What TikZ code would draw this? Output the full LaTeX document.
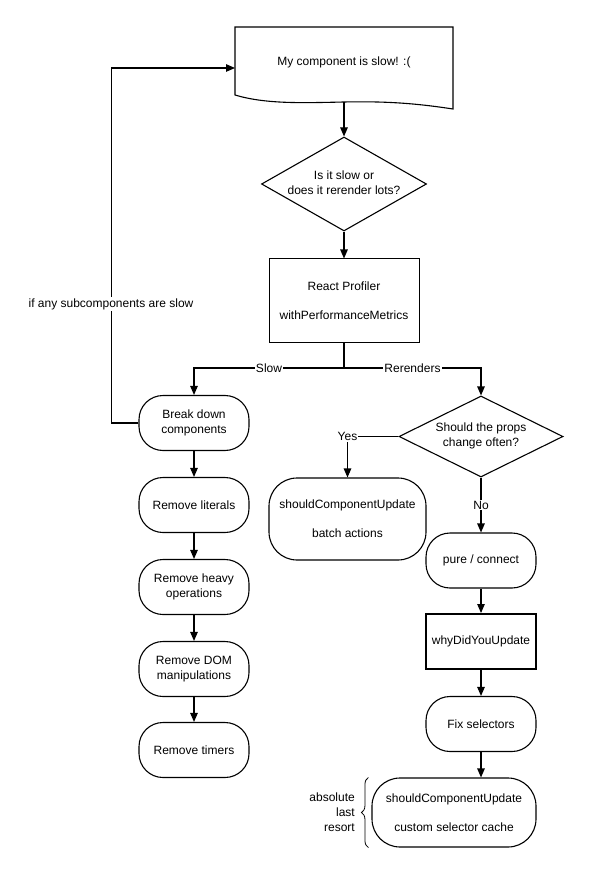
\documentclass[tikz,border=0pt]{standalone}
\usepackage{fontspec}
\setmainfont{Liberation Sans}
\usepackage{tikz}
\usetikzlibrary{shapes.geometric,arrows.meta,decorations.pathreplacing}

\begin{document}
\begin{tikzpicture}[x=1pt,y=-1pt,
  every node/.style={font=\fontsize{12}{15}\selectfont, inner sep=0pt, align=center},
  line/.style={line width=1.1pt},
  arr/.style={line, -{Triangle[length=9pt,width=7.5pt]}},
  term/.style={draw, line width=1.1pt, rounded corners=24pt, minimum width=110pt, minimum height=55pt},
  proc/.style={draw, line width=1pt, minimum width=110pt, minimum height=55pt},
  decision/.style 2 args={draw, diamond, line width=1.1pt, minimum width=#1, minimum height=#2},
  lbl/.style={fill=white, inner sep=1pt}]
\useasboundingbox (0,0) rectangle (590,874);

\node (doc) at (344,62) {My component is slow! :(};
\draw [line] (235,27) -- (453,27) -- (453,109) .. controls (420,104) and (390,101) .. (344,102)
  .. controls (300,103) and (265,104) .. (235,95) -- cycle;
\coordinate (docb) at (344,102);
\coordinate (docw) at (235,68);

\node [decision={165pt}{94pt}] (q1) at (344,184) {};
\node (q1t) at (344,183) {Is it slow or\\does it rerender lots?};
\node [proc, minimum width=150pt, minimum height=83pt] (prof) at (344,300.5) {React Profiler\\[14pt]withPerformanceMetrics};
\coordinate (split) at (344,368);

\node [term] (brk) at (194,423) {Break down\\components};
\node [term] (lit) at (194,505) {Remove literals};
\node [term] (heavy) at (194,587) {Remove heavy\\operations};
\node [term] (dom) at (194,669) {Remove DOM\\manipulations};
\node [term] (tim) at (194,750) {Remove timers};

\node [decision={164pt}{81pt}] (q2) at (481,436.5) {};
\node (q2t) at (481,435.5) {Should the props\\change often?};
\node [term, rounded corners=28pt, minimum width=157pt, minimum height=82pt] (scu) at (347.5,519) {shouldComponentUpdate\\[14pt]batch actions};
\node [term] (pure) at (481,560.5) {pure / connect};
\node [proc, line width=2pt] (why) at (481,641.5) {whyDidYouUpdate};
\node [term] (fix) at (481,724) {Fix selectors};
\node [term, rounded corners=28pt, minimum width=164pt, minimum height=69pt] (last) at (454,812.5) {shouldComponentUpdate\\[14pt]custom selector cache};
\node [anchor=east, align=right] (resort) at (355,812) {absolute\\last\\resort};

\draw [arr] (docb) -- (q1.north);
\draw [arr] (q1.south) -- (prof.north);
\draw [line] (prof.south) -- (split);
\draw [arr] (split) -| node [lbl, pos=0.25] {Slow} (brk.north);
\draw [arr] (split) -| node [lbl, pos=0.25] {Rerenders} (q2.north);
\draw [arr] (brk.south) -- (lit.north);
\draw [arr] (lit.south) -- (heavy.north);
\draw [arr] (heavy.south) -- (dom.north);
\draw [arr] (dom.south) -- (tim.north);
\draw [arr] (brk.west) -- ++(-27,0) |- (docw);
\node [lbl] (loop) at (111,304) {if any subcomponents are slow};
\draw [arr] (q2.west) -| node [lbl, pos=0.5] {Yes} (scu.north);
\draw [arr] (q2.south) -- node [lbl] {No} (pure.north);
\draw [arr] (pure.south) -- (why.north);
\draw [arr] (why.south) -- (fix.north);
\draw [arr] (fix.south) -- (fix.south |- last.north);
\draw [line width=0.8pt, decorate, decoration={brace, amplitude=7pt}]
  ([xshift=-3pt]last.south west) -- ([xshift=-3pt]last.north west);
\end{tikzpicture}
\end{document}
